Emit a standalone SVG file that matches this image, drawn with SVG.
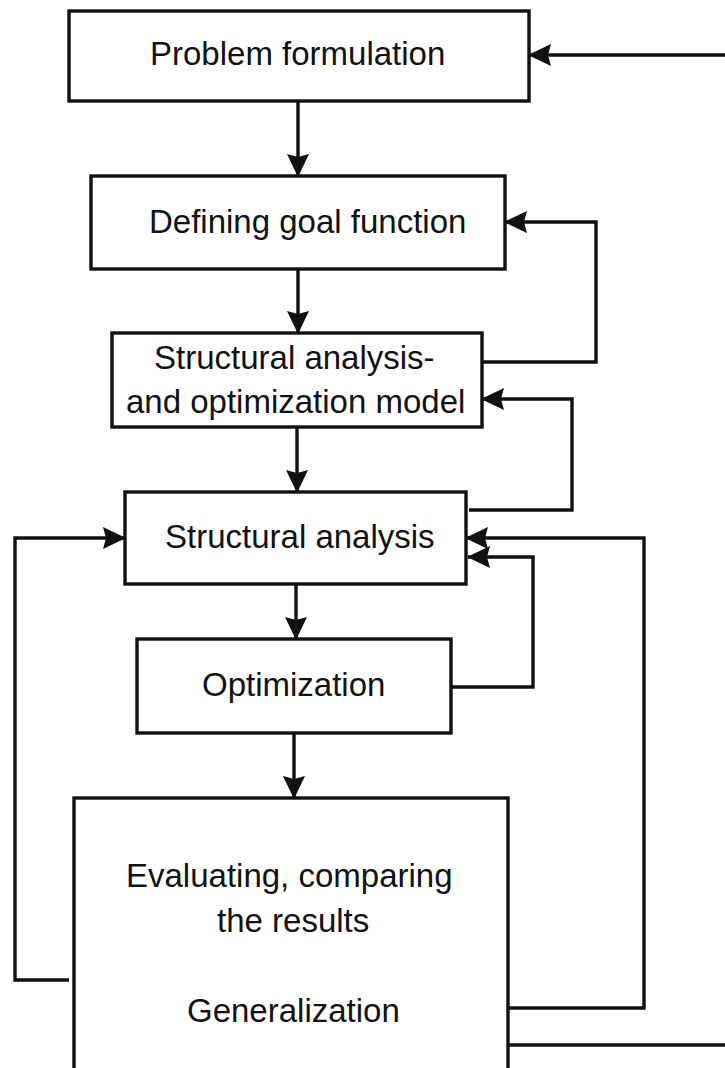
<svg xmlns="http://www.w3.org/2000/svg" width="725" height="1068" viewBox="0 0 725 1068">
<style>
.box{fill:#fff;stroke:#111;stroke-width:3.4}
.lbl{font-family:"Liberation Sans",Arial,sans-serif;font-size:33px;fill:#111}
.con{fill:none;stroke:#111;stroke-width:3.4;stroke-linejoin:miter}
</style>
<defs>
<marker id="ah" markerUnits="userSpaceOnUse" markerWidth="26" markerHeight="24" refX="22" refY="11" orient="auto" viewBox="0 0 26 24">
<path d="M0,0 L23,11 L0,22 L3,11 Z" fill="#111"/>
</marker>
</defs>
<rect width="725" height="1068" fill="#fff"/>
<g id="connectors">
<path class="con" d="M298,101 V176" marker-end="url(#ah)"/>
<path class="con" d="M298,269 V333" marker-end="url(#ah)"/>
<path class="con" d="M297,427 V492" marker-end="url(#ah)"/>
<path class="con" d="M296,584 V639" marker-end="url(#ah)"/>
<path class="con" d="M294,733 V798" marker-end="url(#ah)"/>
<path class="con" d="M725,55 H529" marker-end="url(#ah)"/>
<path class="con" d="M482,362 H596 V222 H505" marker-end="url(#ah)"/>
<path class="con" d="M469,510 H572 V399 H482" marker-end="url(#ah)"/>
<path class="con" d="M451,687 H533 V557 H468" marker-end="url(#ah)"/>
<path class="con" d="M508,1008 H644 V538 H466" marker-end="url(#ah)"/>
<path class="con" d="M69,980 H15 V538 H125" marker-end="url(#ah)"/>
<path class="con" d="M508,1045 H725"/>
</g>
<g id="n1"><rect class="box" x="69" y="11" width="460" height="90"/><text class="lbl" x="150" y="65">Problem formulation</text></g>
<g id="n2"><rect class="box" x="91" y="176" width="414" height="93"/><text class="lbl" x="149" y="233">Defining goal function</text></g>
<g id="n3"><rect class="box" x="112" y="333" width="370" height="94"/><text class="lbl" x="154" y="369">Structural analysis-</text><text class="lbl" x="126" y="413">and optimization model</text></g>
<g id="n4"><rect class="box" x="125" y="492" width="341" height="92"/><text class="lbl" x="165" y="548">Structural analysis</text></g>
<g id="n5"><rect class="box" x="137" y="639" width="314" height="94"/><text class="lbl" x="202" y="696">Optimization</text></g>
<g id="n6"><rect class="box" x="74" y="798" width="434" height="290"/><text class="lbl" x="126" y="887">Evaluating, comparing</text><text class="lbl" x="217" y="932">the results</text><text class="lbl" x="187" y="1022">Generalization</text></g>
</svg>
